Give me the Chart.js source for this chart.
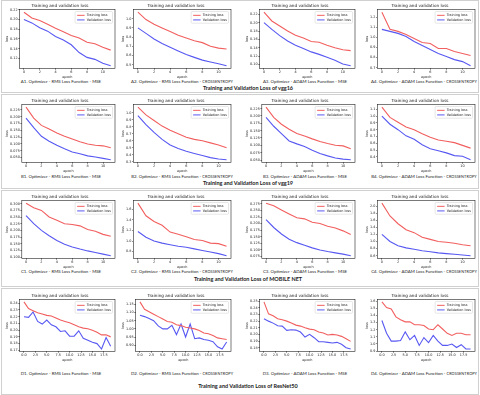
<!DOCTYPE html>
<html><head><meta charset="utf-8">
<script src="https://cdn.jsdelivr.net/npm/chart.js@4.4.1/dist/chart.umd.min.js"></script>
<style>
html,body{margin:0;padding:0;background:#fff;}
body{width:480px;height:395px;position:relative;overflow:hidden;font-family:Lato,"Open Sans",sans-serif;}
.row{position:absolute;left:1px;width:478px;border:1px solid #d0d0d0;box-sizing:border-box;}
.c{position:absolute;width:116px;}
.cap{position:absolute;font-size:4.4px;white-space:nowrap;transform:translateX(-50%);color:#222;}
.cap small{font-size:3.8px;letter-spacing:0.1px;}
.rt{position:absolute;font-size:5.5px;font-weight:bold;white-space:nowrap;transform:translateX(-50%);color:#1a1a1a;}
</style>
</head><body>
<div class="row" style="top:0;height:93px"></div>
<div class="row" style="top:94px;height:95px"></div>
<div class="row" style="top:190px;height:97px"></div>
<div class="row" style="top:288px;height:107px"></div>
<div id="root"></div>
<script>
// ---------- data ----------
const epochs12 = [0,1,2,3,4,5,6,7,8,9,10,11];
const epochs20 = [0,1,2,3,4,5,6,7,8,9,10,11,12,13,14,15,16,17,18,19];
const xTicks12 = [0,2,4,6,8,10];
const xTicks20 = [0,2.5,5,7.5,10,12.5,15,17.5];

const seriesLabels = ['Training loss','Validation loss'];
const chartTitle = 'Training and validation loss';
const rowTitles = ['Training and Validation Loss of vgg16','Training and Validation Loss of vgg19','Training and Validation Loss of MOBILE NET','Training and Validation Loss of ResNet50'];

// vgg16
const a1Train = [0.215,0.203,0.198,0.190,0.182,0.175,0.167,0.162,0.153,0.150,0.143,0.137];
const a1Val   = [0.200,0.193,0.183,0.176,0.165,0.158,0.148,0.132,0.122,0.118,0.110,0.105];
const a1YTicks = [0.12,0.14,0.16,0.18,0.20,0.22];
const a2Train = [1.07,0.99,0.94,0.90,0.86,0.82,0.79,0.76,0.74,0.70,0.68,0.67];
const a2Val   = [0.90,0.84,0.78,0.73,0.69,0.65,0.61,0.58,0.55,0.53,0.51,0.49];
const a2YTicks = [0.5,0.6,0.7,0.8,0.9,1.0];
const a3Train = [0.225,0.204,0.192,0.180,0.170,0.163,0.155,0.153,0.146,0.140,0.135,0.133];
const a3Val   = [0.200,0.184,0.169,0.156,0.146,0.138,0.130,0.124,0.117,0.110,0.101,0.097];
const a3YTicks = [0.10,0.12,0.14,0.16,0.18,0.20,0.22];
const a4Train = [1.25,1.08,1.06,1.03,0.99,0.95,0.94,0.89,0.89,0.86,0.84,0.82];
const a4Val   = [1.08,1.06,1.04,1.01,0.96,0.92,0.88,0.84,0.81,0.78,0.76,0.72];
const a4YTicks = [0.7,0.8,0.9,1.0,1.1,1.2];

// vgg19
const b1Train = [0.235,0.195,0.168,0.155,0.140,0.128,0.118,0.108,0.100,0.095,0.093,0.086];
const b1Val   = [0.195,0.160,0.128,0.110,0.095,0.082,0.070,0.064,0.056,0.052,0.047,0.042];
const b1YTicks = [0.050,0.075,0.100,0.125,0.150,0.175,0.200,0.225];
const b2Train = [1.08,0.97,0.89,0.81,0.75,0.70,0.65,0.62,0.60,0.57,0.54,0.50];
const b2Val   = [0.96,0.83,0.72,0.62,0.54,0.49,0.45,0.42,0.39,0.36,0.34,0.33];
const b2YTicks = [0.3,0.4,0.5,0.6,0.7,0.8,0.9,1.0];
const b3Train = [0.230,0.195,0.172,0.155,0.140,0.132,0.122,0.113,0.106,0.100,0.098,0.088];
const b3Val   = [0.195,0.165,0.140,0.115,0.105,0.096,0.083,0.072,0.064,0.057,0.053,0.051];
const b3YTicks = [0.050,0.075,0.100,0.125,0.150,0.175,0.200,0.225];
const b4Train = [1.13,0.98,0.91,0.84,0.80,0.74,0.69,0.65,0.63,0.61,0.57,0.53];
const b4Val   = [1.00,0.88,0.80,0.71,0.66,0.58,0.52,0.49,0.46,0.42,0.41,0.36];
const b4YTicks = [0.4,0.5,0.6,0.7,0.8,0.9,1.0,1.1];

// MOBILE NET
const c1Train = [0.302,0.285,0.275,0.250,0.238,0.225,0.222,0.217,0.203,0.197,0.185,0.178];
const c1Val   = [0.255,0.225,0.200,0.180,0.162,0.148,0.138,0.130,0.123,0.117,0.111,0.105];
const c1YTicks = [0.100,0.125,0.150,0.175,0.200,0.225,0.250,0.275,0.300];
const c2Train = [1.72,1.48,1.37,1.30,1.17,1.13,1.08,1.03,1.01,0.96,0.95,0.90];
const c2Val   = [1.18,1.07,1.00,0.96,0.93,0.90,0.88,0.85,0.82,0.79,0.76,0.72];
const c2YTicks = [0.8,1.0,1.2,1.4,1.6];
const c3Train = [0.278,0.268,0.252,0.237,0.222,0.218,0.205,0.200,0.190,0.183,0.172,0.158];
const c3Val   = [0.215,0.185,0.160,0.140,0.127,0.117,0.107,0.099,0.093,0.088,0.083,0.077];
const c3YTicks = [0.075,0.100,0.125,0.150,0.175,0.200,0.225,0.250,0.275];
const c4Train = [2.08,1.72,1.50,1.33,1.25,1.12,1.06,1.00,0.98,0.95,0.91,0.88];
const c4Val   = [1.20,1.00,0.88,0.82,0.78,0.74,0.71,0.68,0.66,0.64,0.62,0.60];
const c4YTicks = [0.6,0.8,1.0,1.2,1.4,1.6,1.8,2.0];

// ResNet50
const d1Train = [0.242,0.232,0.229,0.226,0.224,0.222,0.221,0.218,0.215,0.213,0.211,0.208,0.205,0.203,0.202,0.200,0.197,0.193,0.193,0.190];
const d1Val   = [0.220,0.219,0.227,0.213,0.209,0.215,0.208,0.205,0.198,0.199,0.191,0.191,0.199,0.188,0.185,0.182,0.180,0.172,0.189,0.176];
const d1YTicks = [0.17,0.18,0.19,0.20,0.21,0.22,0.23,0.24];
const d2Train = [1.165,1.12,1.105,1.09,1.075,1.06,1.045,1.04,1.025,1.02,1.01,1.005,1.00,0.99,0.975,0.97,0.96,0.945,0.94,0.935];
const d2Val   = [1.083,1.075,1.063,1.05,1.018,1.00,1.00,1.022,0.965,1.03,0.95,1.03,0.94,0.945,0.935,0.93,0.922,0.89,0.877,0.92];
const d2YTicks = [0.90,0.95,1.00,1.05,1.10,1.15];
const d3Train = [0.249,0.231,0.228,0.2235,0.222,0.220,0.217,0.214,0.2125,0.210,0.208,0.207,0.2035,0.202,0.199,0.200,0.199,0.197,0.1935,0.1895];
const d3Val   = [0.2235,0.220,0.217,0.213,0.2125,0.206,0.207,0.2065,0.2035,0.196,0.200,0.195,0.189,0.189,0.188,0.187,0.188,0.185,0.180,0.178];
const d3YTicks = [0.18,0.19,0.20,0.21,0.22,0.23,0.24,0.25];
const d4Train = [1.59,1.51,1.49,1.38,1.34,1.31,1.31,1.27,1.27,1.26,1.21,1.20,1.27,1.21,1.15,1.12,1.15,1.15,1.13,1.13];
const d4Val   = [1.33,1.15,1.04,1.04,1.05,1.17,1.06,1.12,0.98,1.09,1.02,1.12,1.04,0.98,0.98,1.00,0.95,0.99,0.93,0.93];
const d4YTicks = [0.9,1.0,1.1,1.2,1.3,1.4,1.5,1.6];

const captionPrefix = [
 ['A1. Optimizer - RMS Loss Function - ','A2. Optimizer - RMS  Loss Function - ','A3. Optimizer - ADAM Loss Function - ','A4. Optimizer - ADAM Loss Function - '],
 ['B1. Optimizer - RMS Loss Function - ','B2. Optimizer - RMS  Loss Function - ','B3. Optimizer - ADAM Loss Function - ','B4. Optimizer - ADAM Loss Function - '],
 ['C1. Optimizer - RMS Loss Function - ','C2. Optimizer - RMS  Loss Function - ','C3. Optimizer - ADAM Loss Function - ','C4. Optimizer - ADAM Loss Function - '],
 ['D1. Optimizer - RMS Loss Function - ','D2. Optimizer - RMS  Loss Function - ','D3. Optimizer - ADAM Loss Function - ','D4. Optimizer - ADAM Loss Function - ']
];
const lossNames = ['MSE','CROSSENTROPY','MSE','CROSSENTROPY'];

const grid = [
 [[a1Train,a1Val,a1YTicks,2],[a2Train,a2Val,a2YTicks,1],[a3Train,a3Val,a3YTicks,2],[a4Train,a4Val,a4YTicks,1]],
 [[b1Train,b1Val,b1YTicks,3],[b2Train,b2Val,b2YTicks,1],[b3Train,b3Val,b3YTicks,3],[b4Train,b4Val,b4YTicks,1]],
 [[c1Train,c1Val,c1YTicks,3],[c2Train,c2Val,c2YTicks,1],[c3Train,c3Val,c3YTicks,3],[c4Train,c4Val,c4YTicks,1]],
 [[d1Train,d1Val,d1YTicks,2],[d2Train,d2Val,d2YTicks,2],[d3Train,d3Val,d3YTicks,2],[d4Train,d4Val,d4YTicks,1]]
];

// ---------- layout ----------
const colLeft = [2,118,242,362];
const capX = [61,182,305,424];
const rowTop = [1,96,192,291];
const rowH = [78,77,77,71];
const capY = [79,174,269,371];
const rtY = [85,180,276,383];

const FONT = '"DejaVu Sans", sans-serif';
const RED = '#f25f5f';
const BLUE = '#5858f2';

const boxPlugin = {
  id:'box',
  afterDraw(chart){
    const a = chart.chartArea, ctx = chart.ctx;
    ctx.save();
    ctx.strokeStyle = '#222'; ctx.lineWidth = 0.6;
    ctx.strokeRect(a.left, a.top, a.right-a.left, a.bottom-a.top);
    const fs = 3.4;
    ctx.font = fs + 'px ' + FONT;
    const ds = chart.data.datasets;
    let tw = 0; ds.forEach(d=>{tw = Math.max(tw, ctx.measureText(d.label).width);});
    const lh = fs*1.35;
    const w = tw + 13, h = ds.length*lh + 2.5;
    const x = a.right - w - 2.5, y = a.top + 2;
    ctx.fillStyle = 'rgba(255,255,255,0.85)';
    ctx.strokeStyle = '#cfcfcf'; ctx.lineWidth = 0.5;
    ctx.beginPath();
    if (ctx.roundRect) ctx.roundRect(x,y,w,h,1); else ctx.rect(x,y,w,h);
    ctx.fill(); ctx.stroke();
    ds.forEach((d,i)=>{
      const cy = y + 1.5 + lh*i + lh/2;
      ctx.strokeStyle = d.borderColor; ctx.lineWidth = 1;
      ctx.beginPath(); ctx.moveTo(x+2, cy); ctx.lineTo(x+9.5, cy); ctx.stroke();
      ctx.fillStyle = '#222'; ctx.textBaseline = 'middle'; ctx.textAlign='left';
      ctx.fillText(d.label, x+11.5, cy);
    });
    ctx.restore();
  }
};

const root = document.getElementById('root');

function makeChart(r, c, train, val, yTicks, yDec){
  const epochs = r === 3 ? epochs20 : epochs12;
  const xTicks = r === 3 ? xTicks20 : xTicks12;
  const xDec = r === 3 ? 1 : 0;
  const div = document.createElement('div');
  div.className = 'c';
  div.style.left = colLeft[c] + 'px';
  div.style.top = rowTop[r] + 'px';
  div.style.height = rowH[r] + 'px';
  const cv = document.createElement('canvas');
  div.appendChild(cv);
  root.appendChild(div);

  const all = train.concat(val);
  const lo = Math.min(...all), hi = Math.max(...all);
  const yPad = (hi-lo)*0.05;
  const xLo = epochs[0], xHi = epochs[epochs.length-1];
  const xPad = (xHi-xLo)*0.05;

  const tickFont = {size:3.4, family:FONT};
  new Chart(cv, {
    type:'line',
    data:{datasets:[
      {label:seriesLabels[0], data:epochs.map((e,i)=>({x:e,y:train[i]})), borderColor:RED, borderWidth:1.1, pointRadius:0, tension:0, fill:false},
      {label:seriesLabels[1], data:epochs.map((e,i)=>({x:e,y:val[i]})), borderColor:BLUE, borderWidth:1.1, pointRadius:0, tension:0, fill:false}
    ]},
    options:{
      responsive:true, maintainAspectRatio:false, animation:false, events:[],
      layout:{padding:{left:3,right:3,top:0,bottom:0}},
      plugins:{
        legend:{display:false}, tooltip:{enabled:false},
        title:{display:true, text:chartTitle, color:'#222', font:{size:4.2, family:FONT, weight:'normal'}, padding:{top:2,bottom:1.5}}
      },
      scales:{
        x:{type:'linear', min:xLo-xPad, max:xHi+xPad,
           afterBuildTicks:s=>{s.ticks = xTicks.map(v=>({value:v}));},
           ticks:{font:tickFont, color:'#222', padding:0.5, maxRotation:0, autoSkip:false, callback:v=>Number(v).toFixed(xDec)},
           grid:{drawOnChartArea:false, drawTicks:true, tickLength:1.5, color:'#222', lineWidth:0.5},
           border:{display:false},
           title:{display:true, text:'epoch', color:'#222', font:tickFont, padding:{top:0,bottom:0}}},
        y:{type:'linear', min:lo-yPad, max:hi+yPad,
           afterBuildTicks:s=>{s.ticks = yTicks.filter(v=>v>=lo-yPad && v<=hi+yPad).map(v=>({value:v}));},
           ticks:{font:tickFont, color:'#222', padding:0.5, autoSkip:false, callback:v=>Number(v).toFixed(yDec)},
           grid:{drawOnChartArea:false, drawTicks:true, tickLength:1.5, color:'#222', lineWidth:0.5},
           border:{display:false},
           title:{display:true, text:'loss', color:'#222', font:tickFont, padding:{top:0,bottom:0.5}}}
      }
    },
    plugins:[boxPlugin]
  });
}

grid.forEach((row,r)=>{
  row.forEach((cfg,c)=>makeChart(r,c,cfg[0],cfg[1],cfg[2],cfg[3]));
  captionPrefix[r].forEach((t,c)=>{
    const d = document.createElement('div');
    d.className = 'cap';
    d.style.left = capX[c] + 'px';
    d.style.top = capY[r] + 'px';
    d.appendChild(document.createTextNode(t));
    const s = document.createElement(lossNames[c] === 'MSE' ? 'span' : 'small');
    s.textContent = lossNames[c];
    d.appendChild(s);
    root.appendChild(d);
  });
  const h = document.createElement('div');
  h.className = 'rt';
  h.style.left = '248px';
  h.style.top = rtY[r] + 'px';
  h.textContent = rowTitles[r];
  root.appendChild(h);
});
</script>
</body></html>
